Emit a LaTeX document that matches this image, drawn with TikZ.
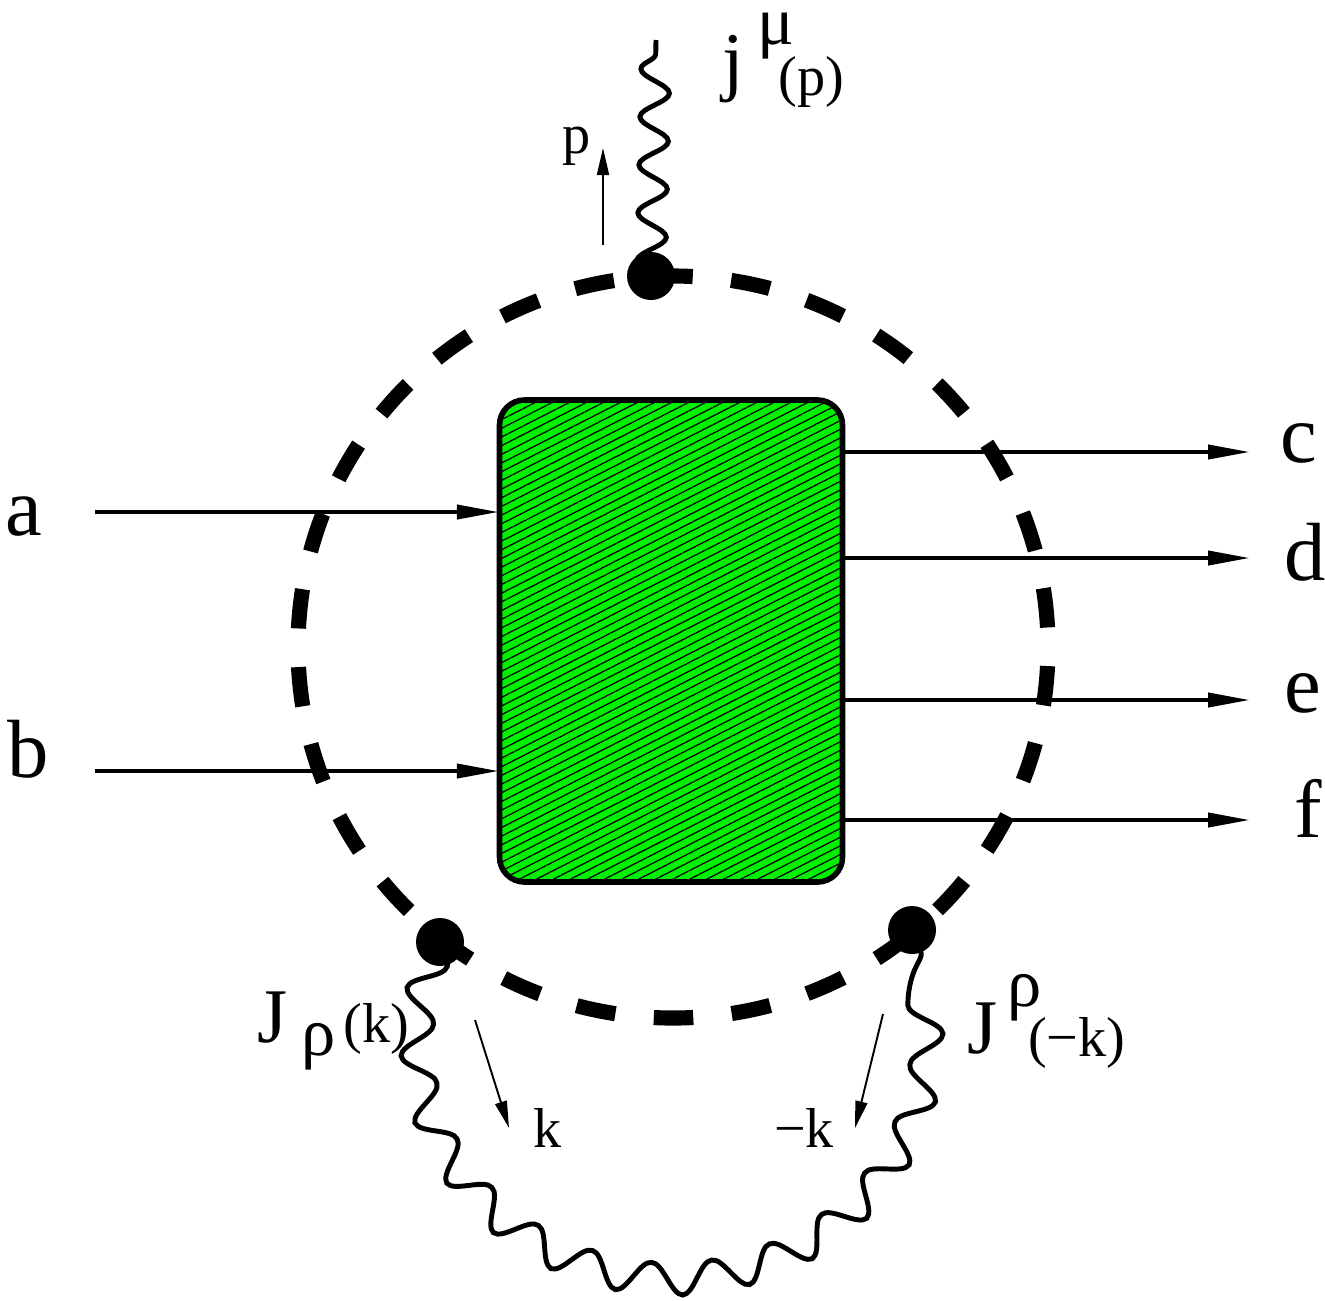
\documentclass[tikz,border=0pt]{standalone}
\usepackage{fontspec}
\setmainfont{Liberation Serif}
\newfontfamily\labelfont{Liberation Serif}
\usetikzlibrary{arrows.meta, positioning, decorations.pathmorphing, patterns.meta}

\definecolor{blobgreen}{RGB}{0,240,0}
\newcommand{\bigsz}{\labelfont\fontsize{23.5}{24}\selectfont}
\newcommand{\midsz}{\labelfont\fontsize{22}{22}\selectfont}
\newcommand{\gksz}{\labelfont\fontsize{19.5}{20}\selectfont}
\newcommand{\smallsz}{\labelfont\fontsize{16}{16}\selectfont}

\begin{document}
\begin{tikzpicture}[x=0.1mm, y=-0.1mm,
  lbl/.style={inner sep=0pt, anchor=base west, font=\bigsz},
  leg/.style={line width=1.15pt, -{Triangle[length=4.2mm, width=1.4mm]}},
  mom/.style={line width=0.55pt, -{Triangle[length=2.7mm, width=1.2mm]}},
  vertex/.style={circle, fill=black, inner sep=0pt, minimum size=4.8mm},
  blob/.style={draw, line width=1.6pt, rounded corners=2.5mm, inner sep=0pt,
    minimum width=34.3mm, minimum height=48.2mm, preaction={fill=blobgreen},
    pattern={Lines[angle=27, distance=2.2pt, line width=0.35pt]}},
  photon/.style={decorate, line width=1.4pt,
    decoration={snake, segment length=4.8mm, amplitude=1.45mm}}]

  \useasboundingbox (0,0) rectangle (1325,1300);

  \draw[line width=4.3pt, dash pattern=on 3.95mm off 3.86mm, dash phase=1.975mm]
    (673,276) arc[start angle=270, end angle=630, x radius=375, y radius=371];

  \node[blob] (blob) at (671,641) {};

  \node[lbl] (la) at (5,535) {a};
  \node[lbl] (lb) at (7,777) {b};
  \node[lbl] (lc) at (1280,462) {c};
  \node[lbl] (ld) at (1284,580) {d};
  \node[lbl] (le) at (1284,712) {e};
  \node[lbl] (lf) at (1294,837) {f};

  \coordinate (ain) at (95,512);
  \coordinate (bin) at (95,771);
  \draw[leg] (ain) -- (blob.west |- ain);
  \draw[leg] (bin) -- (blob.west |- bin);

  \foreach \nm/\yy in {c/452, d/558, e/700, f/820} {
    \coordinate (out\nm) at (1250,\yy);
    \draw[leg] (blob.east |- out\nm) -- (out\nm);
  }

  \coordinate (tv) at (651,276);
  \coordinate (lv) at (440,942);
  \coordinate (rv) at (912,930);
  \coordinate (jend) at (656,40);

  \draw[photon] (tv) -- (jend);
  \draw[photon, decoration={segment length=6.4mm, amplitude=1.6mm}]
    (lv) arc[start angle=201, end angle=-24, x radius=255, y radius=237];

  \node[vertex] (tdot) at (tv) {};
  \node[vertex] (ldot) at (lv) {};
  \node[vertex] (rdot) at (rv) {};

  \coordinate (p0) at (603,245);
  \coordinate (p1) at (603,148);
  \draw[mom] (p0) -- (p1);
  \node[font=\smallsz, inner sep=0pt, anchor=base] (lp) at (577,153) {p};

  \coordinate (k0) at (475,1020);
  \coordinate (k1) at (509,1128);
  \draw[mom] (k0) -- (k1);
  \node[font=\smallsz, inner sep=0pt, anchor=base] (lk) at (548,1147) {k};

  \coordinate (mk0) at (883,1014);
  \coordinate (mk1) at (855,1128);
  \draw[mom] (mk0) -- (mk1);
  \node[font=\smallsz, inner sep=0pt, anchor=base] (lmk) at (804,1147) {−k};

  \node[lbl, font=\midsz] (ljp) at (722,86)
    {j\hspace{1.3mm}\raisebox{4.2mm}{\gksz μ}\hspace{-1.5mm}\raisebox{-0.9mm}{\smallsz(p)}};
  \node[lbl, font=\midsz] (ljl) at (257,1042)
    {J\hspace{1.4mm}\raisebox{-1.3mm}{\gksz ρ}\hspace{0.8mm}{\smallsz(k)}};
  \node[lbl, font=\midsz] (ljr) at (967,1053)
    {J\hspace{1.0mm}\raisebox{4.7mm}{\gksz ρ}\hspace{-1.4mm}\raisebox{-0.3mm}{\smallsz(−k)}};

\end{tikzpicture}
\end{document}
